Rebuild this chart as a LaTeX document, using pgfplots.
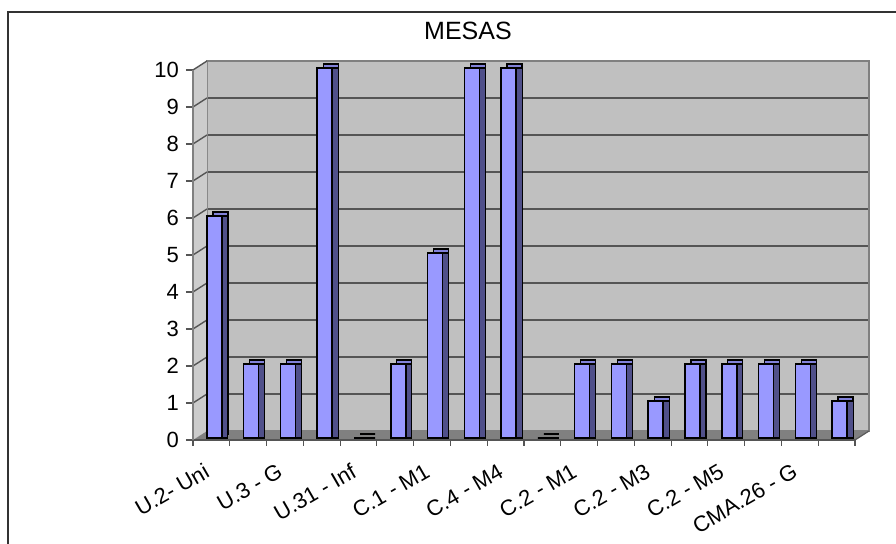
\documentclass[border=0pt]{standalone}
\usepackage{pgfplots}
\pgfplotsset{compat=1.18}
\usepackage{pgfplotstable}
\usepackage{fontspec}
\setmainfont{Liberation Sans}
\definecolor{barfront}{HTML}{9999FF}
\definecolor{barside}{HTML}{50508A}
\definecolor{wallc}{HTML}{C0C0C0}
\definecolor{sidewallc}{HTML}{CCCCCC}
\definecolor{floorc}{HTML}{808080}
\definecolor{gridc}{HTML}{555555}

\pgfplotstableread{
x y
0 6
1 2
2 2
3 10
4 0
5 2
6 5
7 10
8 10
9 0
10 2
11 2
12 1
13 2
14 2
15 2
16 2
17 1
}\datatable

\pgfplotsset{base/.style={scale only axis, width=331pt, height=185pt,
  xmin=-0.5, xmax=17.5, ymin=0, ymax=10, anchor=south west,
  /pgf/number format/assume math mode=true}}

\begin{document}
\begin{tikzpicture}
\begin{scope}[x=0.5pt,y=0.5pt]
\useasboundingbox (0,0) rectangle (896,544);
\draw[line width=0.8pt, black!80] (8,0) -- (8,532) -- (896,532);
\node[font=\fontsize{12.5}{14}\selectfont] at (468,513) {MESAS};
\end{scope}

% back wall
\begin{axis}[base, at={(103.5pt,56.5pt)},
  axis background/.style={fill=wallc},
  xtick=\empty, ytick={1,...,10},
  yticklabels={}, major tick length=0pt,
  ymajorgrids, major grid style={draw=gridc, line width=0.7pt},
  axis line style={draw=floorc, line width=0.8pt}]
\addplot[draw=none] coordinates {(0,0)};
\end{axis}

\begin{scope}[x=0.5pt,y=0.5pt]
% left side wall
\fill[sidewallc] (193,104) -- (207,113) -- (207,483) -- (193,474) -- cycle;
\foreach \k in {1,...,10} {
  \draw[gridc, line width=0.7pt] (193,104+37*\k) -- (207,113+37*\k);
}
% floor
\fill[floorc] (193,104) -- (855,104) -- (869,113) -- (207,113) -- cycle;
\draw[floorc!70!black, line width=0.6pt] (855,104) -- (869,113);
\end{scope}

% bar back faces (light, show as top face)
\begin{axis}[base, at={(101pt,55pt)}, hide axis, clip=false]
\addplot[ybar, bar width=7.5pt, fill=barfront!85!black, draw=black, line width=0.7pt]
  table[x=x, y=y] {\datatable};
\end{axis}
% bar side faces (dark)
\begin{axis}[base, at={(101pt,53pt)}, hide axis, clip=false]
\addplot[ybar, bar width=7.5pt, fill=barside, draw=black, line width=0.6pt]
  table[x=x, y=y] {\datatable};
\end{axis}

% bar fronts
\begin{axis}[base, at={(98pt,53pt)}, hide axis, clip=false]
\addplot[ybar, bar width=7.5pt, fill=barfront, draw=black, line width=0.8pt]
  table[x=x, y=y] {\datatable};
\end{axis}

% front axis with ticks and labels
\begin{axis}[base, at={(96.5pt,52pt)},
  separate axis lines,
  axis x line*=bottom, axis y line*=left,
  x axis line style={-, draw=gridc, line width=0.7pt},
  y axis line style={-, draw=floorc, line width=0.7pt},
  ytick={0,...,10},
  xtick={0,2,...,16},
  xticklabels={U.2- Uni, U.3 - G, U.31 - Inf, C.1 - M1, C.4 - M4, C.2 - M1, C.2 - M3, C.2 - M5, CMA.26 - G},
  minor xtick={-0.5,0.5,...,17.5},
  tick align=outside,
  xtick style={draw=none},
  minor x tick style={draw=gridc, line width=0.6pt},
  minor tick length=3pt,
  ytick style={draw=gridc, line width=0.6pt},
  major tick length=3.5pt,
  tick label style={font=\fontsize{11}{12}\selectfont},
  xticklabel style={xshift=-3pt, yshift=-3pt, rotate=30, anchor=north east}]
\addplot[draw=none] coordinates {(0,0)};
\end{axis}
\end{tikzpicture}
\end{document}
